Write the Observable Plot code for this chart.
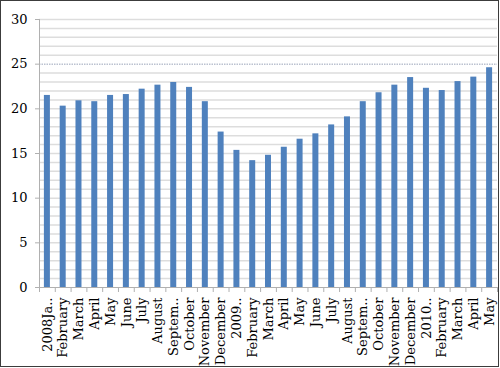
<!DOCTYPE html>
<html>
<head>
<meta charset="utf-8">
<script src="https://cdn.jsdelivr.net/npm/d3@7"></script>
<script src="https://cdn.jsdelivr.net/npm/@observablehq/plot@0.6"></script>
<style>
  body { margin: 0; background: white; }
  #wrap { position: relative; width: 500px; height: 368px; }
  #border { position: absolute; left: 0; top: 0; width: 499px; height: 367px; box-sizing: border-box; border: 1.5px solid #3c3c3c; pointer-events: none; }
</style>
</head>
<body>
<div id="wrap"><div id="border"></div></div>
<script>
const months = ["2008Ja..","February","March","April","May","June","July","August","Septem..","October","November","December",
  "2009..","February","March","April","May","June","July","August","Septem..","October","November","December",
  "2010..","February","March","April","May"];
const values = [21.5,20.3,20.9,20.8,21.5,21.6,22.2,22.65,22.95,22.4,20.8,17.4,
  15.35,14.2,14.8,15.7,16.6,17.2,18.2,19.1,20.8,21.8,22.65,23.5,
  22.3,22.05,23.05,23.55,24.6];
const yTicks = [0,5,10,15,20,25,30];

const data = values.map((v, i) => ({i, v, label: months[i]}));

const chart = Plot.plot({
  width: 500,
  height: 368,
  marginLeft: 39,
  marginRight: 3,
  marginTop: 19,
  marginBottom: 81,
  style: {fontFamily: "'DejaVu Serif', serif", fontSize: "13px", color: "#000", background: "transparent"},
  x: {domain: [0, months.length], axis: null},
  y: {domain: [0, 30], axis: null},
  marks: [
    Plot.ruleY(d3.range(1, 31).filter(v => v !== 25), {stroke: "#dddddd", strokeWidth: 1.5}),
    Plot.ruleY([25], {stroke: "#9aa3b8", strokeWidth: 1, strokeDasharray: "1.5,1"}),
    Plot.rectY(data, {x1: d => d.i + 0.31, x2: d => d.i + 0.69, y: "v", fill: "#4f81bd"}),
    Plot.ruleX([0], {stroke: "#b0b0b0"}),
    Plot.ruleY([0], {stroke: "#b0b0b0"}),
    Plot.axisY({ticks: yTicks, label: null, tickSize: 4, tickPadding: 8, stroke: "#b0b0b0", fill: "#000", fontSize: 13}),
    Plot.axisX({ticks: d3.range(0, months.length + 1), label: null, tickSize: 5, tickFormat: () => "", stroke: "#b0b0b0"}),
    Plot.axisX({ticks: d3.range(months.length).map(i => i + 0.5), label: null, tickFormat: t => months[Math.floor(t)],
      tickSize: 0, tickPadding: 10, tickRotate: -90, fill: "#000", fontSize: 13})
  ]
});
document.getElementById("wrap").prepend(chart);
</script>
</body>
</html>
